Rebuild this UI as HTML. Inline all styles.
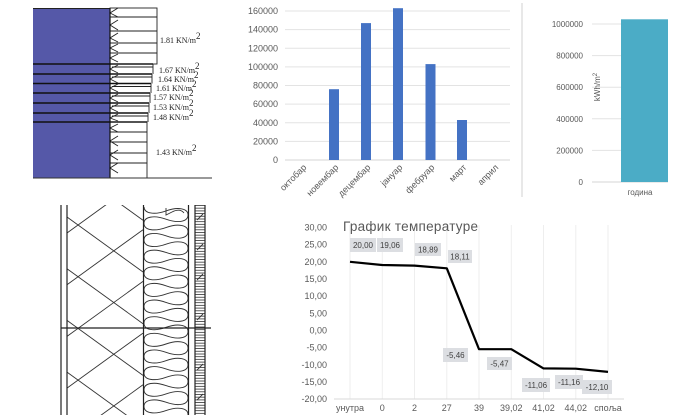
<!DOCTYPE html>
<html><head><meta charset="utf-8">
<style>
html,body{margin:0;padding:0;background:#fff;}
svg{display:block;}
text{font-family:"Liberation Sans",sans-serif;}
.ser{font-family:"Liberation Serif",serif;font-size:8px;fill:#222;}
.ax{font-size:9px;fill:#595959;}
.ax8{font-size:8px;fill:#595959;}
.dl{font-size:8px;fill:#404040;text-anchor:middle;}
</style></head>
<body>
<svg width="680" height="420" viewBox="0 0 680 420" xmlns="http://www.w3.org/2000/svg">
<defs>
  <clipPath id="wall"><rect x="61" y="205" width="150" height="210"/></clipPath>
  <clipPath id="ins"><rect x="143" y="207" width="46" height="208"/></clipPath>
  <pattern id="hatch" patternUnits="userSpaceOnUse" x="0" y="205" width="10" height="2.7">
    <line x1="0" y1="0.5" x2="10" y2="0.5" stroke="#333" stroke-width="0.8"/>
  </pattern>
</defs>

<!-- ===== Panel 1: pressure diagram ===== -->
<rect x="33" y="8" width="77" height="170" fill="#5558a8"/>
<line x1="33" y1="8.5" x2="110" y2="8.5" stroke="#222" stroke-width="1"/>
<g stroke="#111" stroke-width="1.4">
  <line x1="33" y1="64" x2="153" y2="64"/>
  <line x1="33" y1="74" x2="152" y2="74"/>
  <line x1="33" y1="83.5" x2="151" y2="83.5"/>
  <line x1="33" y1="93" x2="150" y2="93"/>
  <line x1="33" y1="103" x2="149" y2="103"/>
  <line x1="33" y1="113" x2="148" y2="113"/>
  <line x1="33" y1="122" x2="147" y2="122"/>
</g>
<g fill="none" stroke="#222" stroke-width="0.9">
  <rect x="110" y="8" width="47" height="56"/>
  <line x1="110" y1="17" x2="157" y2="17"/>
  <line x1="110" y1="31" x2="157" y2="31"/>
  <line x1="110" y1="43" x2="157" y2="43"/>
  <line x1="110" y1="53" x2="157" y2="53"/>
  <line x1="153" y1="64" x2="153" y2="74"/>
  <line x1="152" y1="74" x2="152" y2="83.5"/>
  <line x1="151" y1="83.5" x2="151" y2="93"/>
  <line x1="150" y1="93" x2="150" y2="103"/>
  <line x1="149" y1="103" x2="149" y2="113"/>
  <line x1="148" y1="113" x2="148" y2="122"/>
  <line x1="112" y1="67" x2="153" y2="67"/>
  <line x1="112" y1="77" x2="152" y2="77"/>
  <line x1="112" y1="86.5" x2="151" y2="86.5"/>
  <line x1="112" y1="96" x2="150" y2="96"/>
  <line x1="112" y1="106" x2="149" y2="106"/>
  <line x1="112" y1="116" x2="148" y2="116"/>
  <rect x="110" y="122" width="37" height="56"/>
  <line x1="110" y1="132" x2="147" y2="132"/>
  <line x1="110" y1="142" x2="147" y2="142"/>
  <line x1="110" y1="153" x2="147" y2="153"/>
  <line x1="110" y1="163" x2="147" y2="163"/>
  <path d="M118,8 L110,13 L118,17 M118,20 L110,25 L118,30 M118,33 L110,38 L118,42 M118,44 L110,48 L118,52 M118,54 L110,58 L118,62
           M118,65 L110,69 L118,73 M118,75 L110,79 L118,83 M118,84 L110,88 L118,92 M118,94 L110,98 L118,102 M118,104 L110,108 L118,112 M118,114 L110,118 L118,121
           M118,124 L110,128 L118,132 M118,136 L110,141 L118,146 M118,150 L110,155 L118,160 M118,163 L110,168 L118,173"/>
</g>
<line x1="110" y1="8" x2="110" y2="178" stroke="#111" stroke-width="1.2"/>
<line x1="33" y1="178" x2="212" y2="178" stroke="#333" stroke-width="1"/>
<text class="ser" x="160" y="43">1.81 KN/m<tspan dy="-4" font-size="9">2</tspan></text>
<text class="ser" x="159" y="73">1.67 KN/m<tspan dy="-4" font-size="9">2</tspan></text>
<text class="ser" x="158" y="82">1.64 KN/m<tspan dy="-4" font-size="9">2</tspan></text>
<text class="ser" x="156" y="91">1.61 KN/m<tspan dy="-4" font-size="9">2</tspan></text>
<text class="ser" x="153" y="100">1.57 KN/m<tspan dy="-4" font-size="9">2</tspan></text>
<text class="ser" x="153" y="110">1.53 KN/m<tspan dy="-4" font-size="9">2</tspan></text>
<text class="ser" x="153" y="120">1.48 KN/m<tspan dy="-4" font-size="9">2</tspan></text>
<text class="ser" x="156" y="155">1.43 KN/m<tspan dy="-4" font-size="9">2</tspan></text>

<!-- ===== Panel 2: monthly bars ===== -->
<g stroke="#e3e3e3" stroke-width="1">
  <line x1="285" y1="11" x2="510" y2="11"/>
  <line x1="285" y1="29.6" x2="510" y2="29.6"/>
  <line x1="285" y1="48.3" x2="510" y2="48.3"/>
  <line x1="285" y1="66.9" x2="510" y2="66.9"/>
  <line x1="285" y1="85.5" x2="510" y2="85.5"/>
  <line x1="285" y1="104.1" x2="510" y2="104.1"/>
  <line x1="285" y1="122.8" x2="510" y2="122.8"/>
  <line x1="285" y1="141.4" x2="510" y2="141.4"/>
  <line x1="285" y1="160" x2="510" y2="160" stroke="#d6d6d6"/>
</g>
<g class="ax" text-anchor="end">
  <text x="278" y="14">160000</text>
  <text x="278" y="32.6">140000</text>
  <text x="278" y="51.3">120000</text>
  <text x="278" y="69.9">100000</text>
  <text x="278" y="88.5">80000</text>
  <text x="278" y="107.1">60000</text>
  <text x="278" y="125.8">40000</text>
  <text x="278" y="144.4">20000</text>
  <text x="278" y="163">0</text>
</g>
<g fill="#4472c4">
  <rect x="329" y="89.2" width="10" height="70.8"/>
  <rect x="361" y="23.1" width="10" height="136.9"/>
  <rect x="393" y="8.2" width="10" height="151.8"/>
  <rect x="425.5" y="64.1" width="10" height="95.9"/>
  <rect x="457" y="120" width="10" height="40"/>
</g>
<g class="ax" text-anchor="end">
  <text transform="translate(307,168) rotate(-45)">октобар</text>
  <text transform="translate(339,168) rotate(-45)">новембар</text>
  <text transform="translate(371,168) rotate(-45)">децембар</text>
  <text transform="translate(403,168) rotate(-45)">јануар</text>
  <text transform="translate(435,168) rotate(-45)">фебруар</text>
  <text transform="translate(467,168) rotate(-45)">март</text>
  <text transform="translate(499,168) rotate(-45)">април</text>
</g>
<line x1="522" y1="3" x2="522" y2="197" stroke="#d9d9d9" stroke-width="1.2"/>

<!-- ===== Panel 3: yearly bar ===== -->
<g stroke="#e3e3e3" stroke-width="1">
  <line x1="592" y1="24" x2="668" y2="24"/>
  <line x1="592" y1="55.6" x2="668" y2="55.6"/>
  <line x1="592" y1="87.2" x2="668" y2="87.2"/>
  <line x1="592" y1="118.8" x2="668" y2="118.8"/>
  <line x1="592" y1="150.4" x2="668" y2="150.4"/>
  <line x1="592" y1="182" x2="668" y2="182" stroke="#d6d6d6"/>
</g>
<g class="ax8" text-anchor="end">
  <text x="583" y="27">1000000</text>
  <text x="583" y="58.6">800000</text>
  <text x="583" y="90.2">600000</text>
  <text x="583" y="121.8">400000</text>
  <text x="583" y="153.4">200000</text>
  <text x="583" y="185">0</text>
</g>
<rect x="621" y="19.3" width="47" height="162.7" fill="#4bacc6"/>
<text class="ax8" x="640" y="195" text-anchor="middle">година</text>
<text class="ax8" transform="translate(600,87) rotate(-90)" text-anchor="middle">kWh/m<tspan font-size="6" dy="-3">2</tspan></text>

<!-- ===== Panel 4: wall section drawing ===== -->
<g clip-path="url(#wall)" fill="none" stroke="#333" stroke-width="0.9">
  <line x1="67" y1="165.3" x2="143" y2="220.3"/>
  <line x1="67" y1="217" x2="143" y2="272"/>
  <line x1="67" y1="268.7" x2="143" y2="323.7"/>
  <line x1="67" y1="320.4" x2="143" y2="375.4"/>
  <line x1="67" y1="372.1" x2="143" y2="427.1"/>
  <line x1="67" y1="233" x2="143" y2="178"/>
  <line x1="67" y1="284.7" x2="143" y2="229.7"/>
  <line x1="67" y1="336.4" x2="143" y2="281.4"/>
  <line x1="67" y1="388.1" x2="143" y2="333.1"/>
  <line x1="67" y1="439.8" x2="143" y2="384.8"/>
</g>
<g clip-path="url(#ins)">
<g transform="translate(0,198.4) scale(1,1.04)">
<path fill="none" stroke="#333" stroke-width="0.9" d="M188,-16
 c0,6.67 -10.48,8.01 -22,4 c-11.52,-4.01 -22,-2.67 -22,4 c0,6.67 10.48,8.01 22,4 c11.52,-4.01 22,-2.67 22,4
 c0,6.67 -10.48,8.01 -22,4 c-11.52,-4.01 -22,-2.67 -22,4 c0,6.67 10.48,8.01 22,4 c11.52,-4.01 22,-2.67 22,4
 c0,6.67 -10.48,8.01 -22,4 c-11.52,-4.01 -22,-2.67 -22,4 c0,6.67 10.48,8.01 22,4 c11.52,-4.01 22,-2.67 22,4
 c0,6.67 -10.48,8.01 -22,4 c-11.52,-4.01 -22,-2.67 -22,4 c0,6.67 10.48,8.01 22,4 c11.52,-4.01 22,-2.67 22,4
 c0,6.67 -10.48,8.01 -22,4 c-11.52,-4.01 -22,-2.67 -22,4 c0,6.67 10.48,8.01 22,4 c11.52,-4.01 22,-2.67 22,4
 c0,6.67 -10.48,8.01 -22,4 c-11.52,-4.01 -22,-2.67 -22,4 c0,6.67 10.48,8.01 22,4 c11.52,-4.01 22,-2.67 22,4
 c0,6.67 -10.48,8.01 -22,4 c-11.52,-4.01 -22,-2.67 -22,4 c0,6.67 10.48,8.01 22,4 c11.52,-4.01 22,-2.67 22,4
 c0,6.67 -10.48,8.01 -22,4 c-11.52,-4.01 -22,-2.67 -22,4 c0,6.67 10.48,8.01 22,4 c11.52,-4.01 22,-2.67 22,4
 c0,6.67 -10.48,8.01 -22,4 c-11.52,-4.01 -22,-2.67 -22,4 c0,6.67 10.48,8.01 22,4 c11.52,-4.01 22,-2.67 22,4
 c0,6.67 -10.48,8.01 -22,4 c-11.52,-4.01 -22,-2.67 -22,4 c0,6.67 10.48,8.01 22,4 c11.52,-4.01 22,-2.67 22,4
 c0,6.67 -10.48,8.01 -22,4 c-11.52,-4.01 -22,-2.67 -22,4 c0,6.67 10.48,8.01 22,4 c11.52,-4.01 22,-2.67 22,4
 c0,6.67 -10.48,8.01 -22,4 c-11.52,-4.01 -22,-2.67 -22,4 c0,6.67 10.48,8.01 22,4 c11.52,-4.01 22,-2.67 22,4
 c0,6.67 -10.48,8.01 -22,4 c-11.52,-4.01 -22,-2.67 -22,4 c0,6.67 10.48,8.01 22,4 c11.52,-4.01 22,-2.67 22,4
 c0,6.67 -10.48,8.01 -22,4 c-11.52,-4.01 -22,-2.67 -22,4 c0,6.67 10.48,8.01 22,4 c11.52,-4.01 22,-2.67 22,4
 c0,6.67 -10.48,8.01 -22,4 c-11.52,-4.01 -22,-2.67 -22,4 c0,6.67 10.48,8.01 22,4 c11.52,-4.01 22,-2.67 22,4"/>
</g>
</g>
<path d="M166,208 L166,215 L172,212 Q180,208 184,213" fill="none" stroke="#333" stroke-width="0.9"/>
<rect x="195" y="205" width="10" height="210" fill="url(#hatch)"/>
<g stroke="#333" stroke-width="0.9">
  <line x1="197" y1="220" x2="203" y2="214"/>
  <line x1="197" y1="250" x2="203" y2="244"/>
  <line x1="197" y1="280" x2="203" y2="274"/>
  <line x1="197" y1="320" x2="203" y2="314"/>
  <line x1="197" y1="370" x2="203" y2="364"/>
  <line x1="197" y1="400" x2="203" y2="394"/>
</g>
<g stroke="#222" stroke-width="1.2">
  <line x1="61" y1="205" x2="61" y2="415"/>
  <line x1="67" y1="205" x2="67" y2="415"/>
  <line x1="143.5" y1="205" x2="143.5" y2="415"/>
  <line x1="188.5" y1="205" x2="188.5" y2="415"/>
  <line x1="195" y1="205" x2="195" y2="415"/>
  <line x1="205" y1="205" x2="205" y2="415"/>
  <line x1="61" y1="328" x2="211" y2="328"/>
</g>

<!-- ===== Panel 5: temperature chart ===== -->
<g stroke="#eeeeee" stroke-width="1">
  <line x1="350" y1="225" x2="350" y2="399"/>
  <line x1="382.3" y1="225" x2="382.3" y2="399"/>
  <line x1="414.5" y1="225" x2="414.5" y2="399"/>
  <line x1="446.8" y1="225" x2="446.8" y2="399"/>
  <line x1="479" y1="225" x2="479" y2="399"/>
  <line x1="511.3" y1="225" x2="511.3" y2="399"/>
  <line x1="543.5" y1="225" x2="543.5" y2="399"/>
  <line x1="575.8" y1="225" x2="575.8" y2="399"/>
  <line x1="608" y1="225" x2="608" y2="399"/>
</g>
<line x1="334" y1="399" x2="624" y2="399" stroke="#d9d9d9" stroke-width="1"/>
<g class="ax" text-anchor="end">
  <text x="327" y="230.5">30,00</text>
  <text x="327" y="247.7">25,00</text>
  <text x="327" y="264.8">20,00</text>
  <text x="327" y="282">15,00</text>
  <text x="327" y="299.2">10,00</text>
  <text x="327" y="316.3">5,00</text>
  <text x="327" y="333.5">0,00</text>
  <text x="327" y="350.7">-5,00</text>
  <text x="327" y="367.9">-10,00</text>
  <text x="327" y="385">-15,00</text>
  <text x="327" y="402.2">-20,00</text>
</g>
<text x="343" y="231" font-size="13.5" fill="#595959" textLength="135">График температуре</text>
<polyline fill="none" stroke="#000" stroke-width="2.2" stroke-linejoin="round"
  points="350,261.8 382.3,265 414.5,265.6 446.8,268.3 479,349.2 511.3,349.2 543.5,368.4 575.8,368.7 608,371.9"/>
<g fill="#dcdee2">
  <rect x="350" y="238" width="26" height="14"/>
  <rect x="377" y="238" width="26" height="14"/>
  <rect x="415" y="243" width="26" height="13"/>
  <rect x="448" y="250" width="24" height="13"/>
  <rect x="443" y="348" width="25" height="14"/>
  <rect x="487" y="357" width="25" height="13"/>
  <rect x="522" y="378" width="28" height="14"/>
  <rect x="555" y="375" width="28" height="14"/>
  <rect x="582" y="380" width="30" height="14"/>
</g>
<g class="dl">
  <text x="363" y="248">20,00</text>
  <text x="390" y="248">19,06</text>
  <text x="428" y="252.5">18,89</text>
  <text x="460" y="259.5">18,11</text>
  <text x="455.5" y="358">-5,46</text>
  <text x="499.5" y="366.5">-5,47</text>
  <text x="536" y="388">-11,06</text>
  <text x="569" y="385">-11,16</text>
  <text x="597" y="390">-12,10</text>
</g>
<g class="ax" text-anchor="middle">
  <text x="350" y="411">унутра</text>
  <text x="382.3" y="411">0</text>
  <text x="414.5" y="411">2</text>
  <text x="446.8" y="411">27</text>
  <text x="479" y="411">39</text>
  <text x="511.3" y="411">39,02</text>
  <text x="543.5" y="411">41,02</text>
  <text x="575.8" y="411">44,02</text>
  <text x="608" y="411">споља</text>
</g>
</svg>
</body></html>
